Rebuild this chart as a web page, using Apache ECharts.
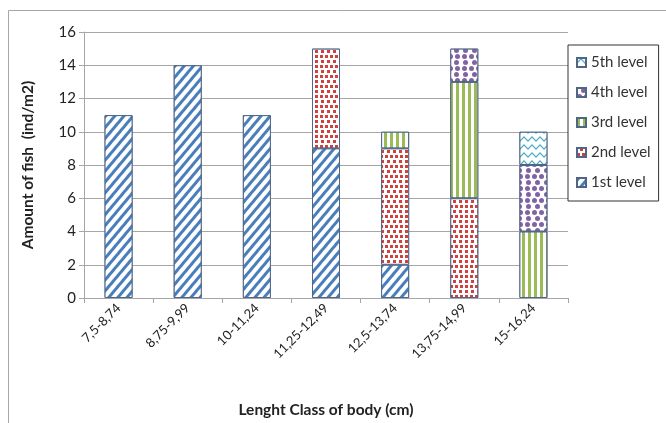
<!DOCTYPE html>
<html>
<head>
<meta charset="utf-8">
<script src="https://cdn.jsdelivr.net/npm/echarts@6/dist/echarts.min.js"></script>
<style>
  html, body { margin: 0; padding: 0; background: #fff; }
  #chart { width: 666px; height: 423px; }
</style>
</head>
<body>
<div id="chart"></div>
<script>
// Length classes of fish body (cm)
const categories = ['7,5-8,74', '8,75-9,99', '10-11,24', '11,25-12,49', '12,5-13,74', '13,75-14,99', '15-16,24'];

// Amount of fish (ind/m2) per trophic level
const level1 = [11, 14, 11, 9, 2, 0, 0];
const level2 = [0, 0, 0, 6, 7, 6, 0];
const level3 = [0, 0, 0, 0, 1, 7, 4];
const level4 = [0, 0, 0, 0, 0, 2, 4];
const level5 = [0, 0, 0, 0, 0, 0, 2];

const yTicks = [0, 2, 4, 6, 8, 10, 12, 14, 16];

const FONT = 'Lato, "Noto Sans", sans-serif';
const BORDER = '#4f6585';

// fill patterns for each level
const decals = {
  l1: { symbol: 'rect', symbolSize: 1, color: '#4a7ebb', backgroundColor: '#fff',
        dashArrayX: [1, 0], dashArrayY: [2.2, 3.3], rotation: -Math.PI / 3.6 },
  l2: { symbol: 'rect', symbolSize: 1, color: '#d0403c', backgroundColor: '#fff',
        dashArrayX: [[2.4, 2], [0, 2.2, 2.2, 0]], dashArrayY: [2.4, 1.3] },
  l3: { symbol: 'rect', symbolSize: 1, color: '#9bbb59', backgroundColor: '#fff',
        dashArrayX: [2.5, 2.5], dashArrayY: [1, 0] },
  l4: { symbol: 'circle', symbolSize: 1, color: '#8064a2', backgroundColor: '#fff',
        dashArrayX: [[5, 1.5], [0, 3.25, 5, 0]], dashArrayY: [5, 0.5] },
  l5: { symbol: 'path://M0,4 L4,0 L8,4 L8,5.5 L4,1.5 L0,5.5 Z', symbolSize: 1, symbolKeepAspect: false,
        color: '#4bacc6', backgroundColor: '#fff', dashArrayX: [8, 0], dashArrayY: [5.5, 2] }
};

function toBars(arr) {
  return arr.map(v => (v === 0 ? '-' : v));
}

function makeSeries(name, data, decal) {
  return {
    name: name,
    type: 'bar',
    stack: 'total',
    barWidth: 28,
    data: toBars(data),
    itemStyle: { color: '#fff', borderColor: BORDER, borderWidth: 1, decal: decal },
    emphasis: { disabled: true }
  };
}

const chart = echarts.init(document.getElementById('chart'), null, { renderer: 'canvas' });

chart.setOption({
  animation: false,
  backgroundColor: '#fff',
  textStyle: { fontFamily: FONT },
  graphic: [{
    type: 'rect',
    shape: { x: 8.5, y: 10.5, width: 700, height: 500 },
    style: { fill: 'none', stroke: '#a6a6a6', lineWidth: 1 },
    silent: true
  }],
  grid: { left: 84, right: 98, top: 32, bottom: 125 },
  legend: {
    orient: 'vertical',
    left: 568,
    top: 45,
    width: 96,
    height: 160,
    padding: [10, 8, 11, 8],
    itemGap: 15,
    itemWidth: 9,
    itemHeight: 9,
    borderColor: '#333',
    borderWidth: 1,
    icon: 'rect',
    data: ['5th level', '4th level', '3rd level', '2nd level', '1st level'],
    textStyle: { fontFamily: FONT, fontSize: 15, color: '#333', padding: [0, 0, 0, 0] }
  },
  xAxis: {
    type: 'category',
    data: categories,
    name: 'Lenght Class of body (cm)',
    nameLocation: 'middle',
    nameGap: 104,
    nameTextStyle: { fontFamily: FONT, fontSize: 15.5, fontWeight: 'bold', color: '#222' },
    axisLine: { lineStyle: { color: '#a6a6a6', width: 1 } },
    axisTick: { show: true, length: 5, lineStyle: { color: '#a6a6a6' } },
    axisLabel: { rotate: 45, fontFamily: FONT, fontSize: 13, color: '#222', margin: 8 }
  },
  yAxis: {
    type: 'value',
    min: yTicks[0],
    max: yTicks[yTicks.length - 1],
    interval: 2,
    name: 'Amount of fish  (ind/m2)',
    nameLocation: 'middle',
    nameGap: 48,
    nameTextStyle: { fontFamily: FONT, fontSize: 15.5, fontWeight: 'bold', color: '#222' },
    axisLine: { show: true, lineStyle: { color: '#a6a6a6', width: 1 } },
    axisTick: { show: true, length: 5, lineStyle: { color: '#a6a6a6' } },
    splitLine: { lineStyle: { color: '#a6a6a6', width: 1 } },
    axisLabel: { fontFamily: FONT, fontSize: 15, color: '#222', margin: 8 }
  },
  series: [
    makeSeries('1st level', level1, decals.l1),
    makeSeries('2nd level', level2, decals.l2),
    makeSeries('3rd level', level3, decals.l3),
    makeSeries('4th level', level4, decals.l4),
    makeSeries('5th level', level5, decals.l5)
  ]
});
</script>
</body>
</html>
